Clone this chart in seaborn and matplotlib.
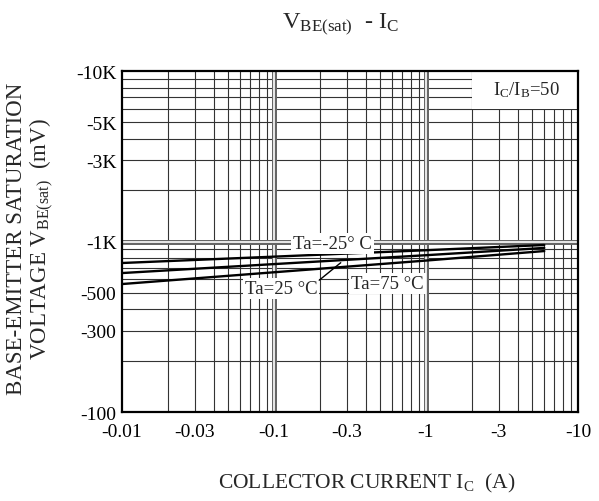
import numpy as np
import pandas as pd
import matplotlib
matplotlib.use("Agg")
import matplotlib.pyplot as plt
import matplotlib.patheffects as pe
from matplotlib.patches import Rectangle
from matplotlib.ticker import LogLocator, FixedLocator, NullFormatter
import seaborn as sns

# collector current |Ic| (A) and Vbe(sat) magnitude (mV)
ic = [0.01, 0.1, 1, 6]
vbe_m25 = [748, 815, 889, 954]   # Ta=-25 C
vbe_25 = [653, 737, 831, 917]    # Ta=25 C
vbe_75 = [563, 660, 773, 879]    # Ta=75 C

xticks = [0.01, 0.03, 0.1, 0.3, 1, 3, 10]
xticklabels = ["-0.01", "-0.03", "-0.1", "-0.3", "-1", "-3", "-10"]
yticks = [100, 300, 500, 1000, 3000, 5000, 10000]
yticklabels = ["-100", "-300", "-500", "-1K", "-3K", "-5K", "-10K"]

df = pd.DataFrame({
    "ic": ic * 3,
    "vbe": vbe_m25 + vbe_25 + vbe_75,
    "ta": ["-25"] * 4 + ["25"] * 4 + ["75"] * 4,
})

sns.set_style("white")
plt.rcParams["font.family"] = ["Liberation Serif", "DejaVu Serif"]
plt.rcParams["mathtext.fontset"] = "custom"
plt.rcParams["mathtext.rm"] = "Liberation Serif"
plt.rcParams["mathtext.it"] = "Liberation Serif"

fig = plt.figure(figsize=(5.99, 5.02), dpi=100)
ax = fig.add_axes([122/599, 1-413/502, 456/599, 341/502])

sns.lineplot(data=df, x="ic", y="vbe", hue="ta", palette=["black"]*3,
             linewidth=1.7, legend=False, ax=ax, zorder=3)

ax.set_xscale("log")
ax.set_yscale("log")
ax.set_xlim(0.01, 10)
ax.set_ylim(100, 10000)

ax.xaxis.set_major_locator(FixedLocator(xticks))
ax.set_xticklabels(xticklabels)
ax.yaxis.set_major_locator(FixedLocator(yticks))
ax.set_yticklabels(yticklabels)
ax.xaxis.set_minor_locator(LogLocator(base=10, subs=np.arange(2, 10)))
ax.yaxis.set_minor_locator(LogLocator(base=10, subs=np.arange(2, 10)))
ax.xaxis.set_minor_formatter(NullFormatter())
ax.yaxis.set_minor_formatter(NullFormatter())
ax.tick_params(which="both", length=0, labelsize=14, colors="black")
ax.tick_params(axis="x", pad=8)
ax.tick_params(axis="y", pad=4)

# grid: thin lines at 2..9, doubled-looking lines at decades
ax.grid(False)
for v in [2, 3, 4, 5, 6, 7, 8, 9]:
    for d in [0.01, 0.1, 1]:
        ax.axvline(v * d, color="0.2", lw=0.8, zorder=1)
    for d in [100, 1000]:
        ax.axhline(v * d, color="0.2", lw=0.8, zorder=1)
dbl = [pe.Stroke(linewidth=3.6, foreground="0.4"), pe.Normal()]
for d in [0.1, 1]:
    ax.axvline(d, color="white", lw=1.2, zorder=1, path_effects=dbl)
ax.axhline(1000, color="white", lw=1.2, zorder=1, path_effects=dbl)

for s in ax.spines.values():
    s.set_color("black")
    s.set_linewidth(1.6)
    s.set_zorder(5)

# condition box
ax.add_patch(Rectangle((2, 6000), 8, 4000, facecolor="white", edgecolor="none", zorder=2))
ax.text(4.6, 7800, r"I$_{\rm C}$/I$_{\rm B}$=50", fontsize=13.5, ha="center", va="center", zorder=4)

box = dict(facecolor="white", edgecolor="none", pad=1.5)
ax.text(0.244, 975, "Ta=-25° C", fontsize=13.5, ha="center", va="center", bbox=box, zorder=4)
ax.text(0.111, 530, "Ta=25 °C", fontsize=13.5, ha="center", va="center", bbox=box, zorder=4)
ax.text(0.56, 565, "Ta=75 °C", fontsize=13.5, ha="center", va="center", bbox=box, zorder=4)
ax.annotate("", xy=(0.284, 769), xytext=(0.192, 579),
            arrowprops=dict(arrowstyle="-", color="black", lw=1.0), zorder=4)

fig.text(341/599, 1-25/502, r"V$_{\rm BE(sat)}$  - I$_{\rm C}$", fontsize=17.5,
         ha="center", va="center")
ax.set_xlabel(r"COLLECTOR CURRENT I$_{\rm C}$  (A)", fontsize=15.5)
ax.xaxis.set_label_coords((367-122)/456, -(483-413)/341)
ax.set_ylabel("BASE-EMITTER SATURATION\n" + r"VOLTAGE V$_{\rm BE(sat)}$  (mV)",
              fontsize=16.5, linespacing=1.0)
ax.yaxis.set_label_coords(-(122-31)/456, (413-239)/341)
ax.xaxis.label.set_va("center")
ax.yaxis.label.set_va("center")

fig.savefig("out.png", dpi=100)
